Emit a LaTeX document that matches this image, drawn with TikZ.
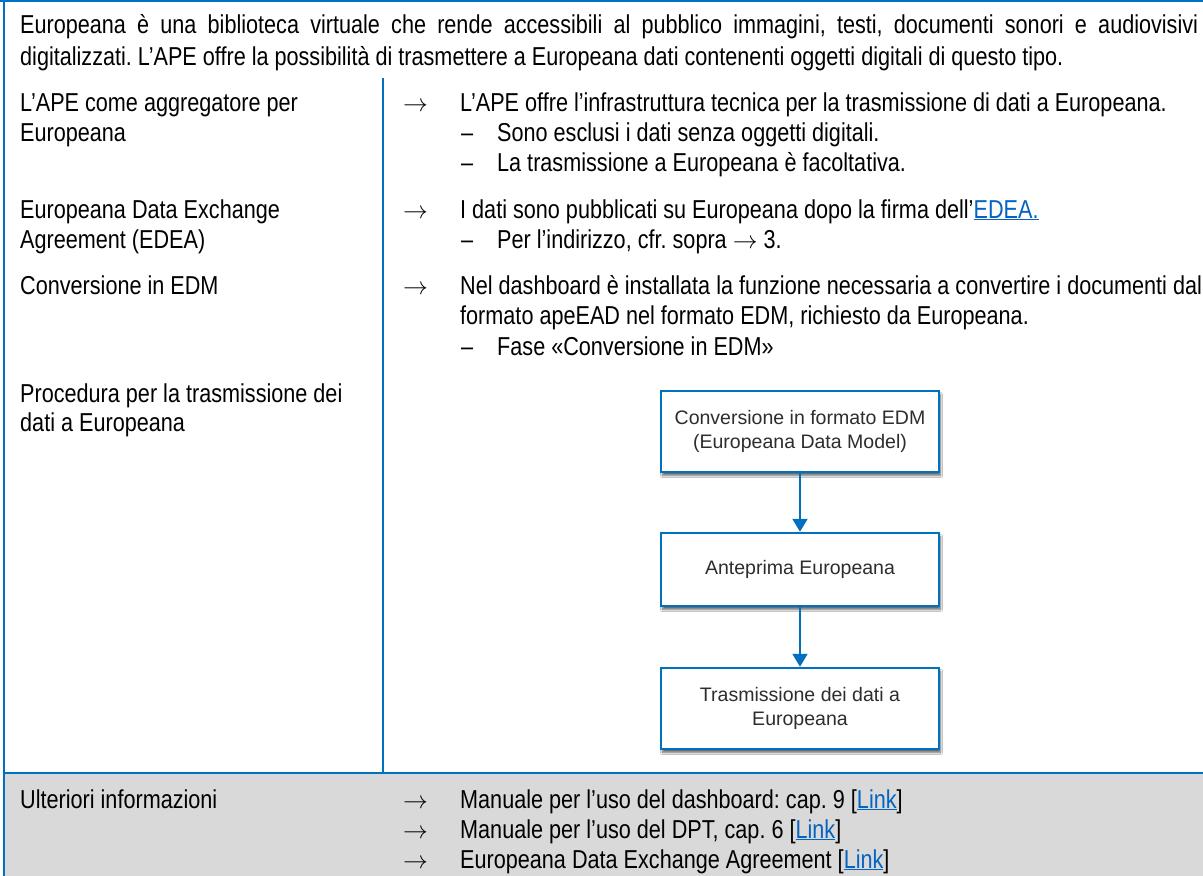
\documentclass[tikz,border=0pt]{standalone}
\usepackage{fontspec}
\setmainfont{Liberation Sans}
\newfontfamily\narrowfont[FakeStretch=0.835]{Liberation Sans}
\newfontfamily\boxfont{Liberation Sans}
\usetikzlibrary{arrows.meta,shadows.blur}
\definecolor{apeblue}{RGB}{0,112,192}
\definecolor{linkblue}{RGB}{5,99,193}
\definecolor{bandgray}{RGB}{217,217,217}
\definecolor{boxtext}{RGB}{45,45,45}
\newcommand{\apelink}[1]{\textcolor{linkblue}{\underline{#1}}}
\frenchspacing
\begin{document}
\begin{tikzpicture}[x=1bp,y=-1bp,
  txt/.style={anchor=base west,inner sep=0pt,font=\narrowfont\fontsize{26}{30}\selectfont\frenchspacing},
  flow/.style={draw=apeblue,line width=2.5bp,fill=white,minimum width=278bp,align=center,
    inner sep=0pt,font=\boxfont\fontsize{19.6}{24}\selectfont,text=boxtext,
    blur shadow={shadow xshift=1.5bp,shadow yshift=-3.5bp,shadow blur steps=6,shadow opacity=60}},
  flowarrow/.style={draw=apeblue,line width=2bp,-{Triangle[width=15bp,length=13bp]}},
  rule/.style={draw=apeblue,line width=2.2bp}]
\useasboundingbox (0,0) rectangle (1203,876);
\fill[white] (0,0) rectangle (1203,876);
\fill[bandgray] (4,773) rectangle (1203,876);
% frame rules
\coordinate (tl) at (0,1);
\coordinate (tr) at (1203,1);
\coordinate (tl2) at (4,0);
\coordinate (bl) at (4,876);
\coordinate (dtop) at (383,78);
\coordinate (dbot) at (383,773);
\coordinate (hl) at (4,773);
\coordinate (hr) at (1203,773);
\draw[rule] (tl) -- (tr);
\draw[rule] (tl2) -- (bl);
\draw[rule] (dtop) -- (dbot);
\draw[rule] (hl) -- (hr);
% intro
\node[txt] (intro1) at (20,33) {\makebox[1178bp][s]{Europeana è una biblioteca virtuale che rende accessibili al pubblico immagini, testi, documenti sonori e audiovisivi}};
\node[txt] (intro2) at (20,65) {digitalizzati. L’APE offre la possibilità di trasmettere a Europeana dati contenenti oggetti digitali di questo tipo.};
% row 1
\node[txt] (l1a) at (20,111) {L’APE come aggregatore per};
\node[txt] (l1b) at (20,141) {Europeana};
\node[txt] (a1) at (403,111) {$\rightarrow$};
\node[txt] (r1) at (460,111) {L’APE offre l’infrastruttura tecnica per la trasmissione di dati a Europeana.};
\node[txt] (d1a) at (461,141) {–};
\node[txt] (s1a) at (497,141) {Sono esclusi i dati senza oggetti digitali.};
\node[txt] (d1b) at (461,171) {–};
\node[txt] (s1b) at (497,171) {La trasmissione a Europeana è facoltativa.};
% row 2
\node[txt] (l2a) at (20,218) {Europeana Data Exchange};
\node[txt] (l2b) at (20,248) {Agreement (EDEA)};
\node[txt] (a2) at (403,218) {$\rightarrow$};
\node[txt] (r2) at (460,218) {I dati sono pubblicati su Europeana dopo la firma dell’\apelink{EDEA.}};
\node[txt] (d2) at (461,248) {–};
\node[txt] (s2) at (497,248) {Per l’indirizzo, cfr. sopra $\rightarrow$ 3.};
% row 3
\node[txt] (l3) at (20,294) {Conversione in EDM};
\node[txt] (a3) at (403,294) {$\rightarrow$};
\node[txt] (r3a) at (460,294) {Nel dashboard è installata la funzione necessaria a convertire i documenti dal};
\node[txt] (r3b) at (460,324) {formato apeEAD nel formato EDM, richiesto da Europeana.};
\node[txt] (d3) at (461,355) {–};
\node[txt] (s3) at (497,355) {Fase «Conversione in EDM»};
% row 4
\node[txt] (l4a) at (20,402) {Procedura per la trasmissione dei};
\node[txt] (l4b) at (20,431) {dati a Europeana};
% flow chart
\node[flow,minimum height=81bp] (b1) at (800,431.5) {Conversione in formato EDM\\(Europeana Data Model)};
\node[flow,minimum height=73bp] (b2) at (800,569.5) {Anteprima Europeana};
\node[flow,minimum height=81bp] (b3) at (800,708.5) {Trasmissione dei dati a\\Europeana};
\draw[flowarrow] (b1.south) -- (b2.north);
\draw[flowarrow] (b2.south) -- (b3.north);
% further info
\node[txt] (u) at (20,808) {Ulteriori informazioni};
\node[txt] (ua1) at (403,808) {$\rightarrow$};
\node[txt] (u1) at (460,808) {Manuale per l’uso del dashboard: cap. 9 [\apelink{Link}]};
\node[txt] (ua2) at (403,838) {$\rightarrow$};
\node[txt] (u2) at (460,838) {Manuale per l’uso del DPT, cap. 6 [\apelink{Link}]};
\node[txt] (ua3) at (403,868) {$\rightarrow$};
\node[txt] (u3) at (460,868) {Europeana Data Exchange Agreement [\apelink{Link}]};
\end{tikzpicture}
\end{document}
